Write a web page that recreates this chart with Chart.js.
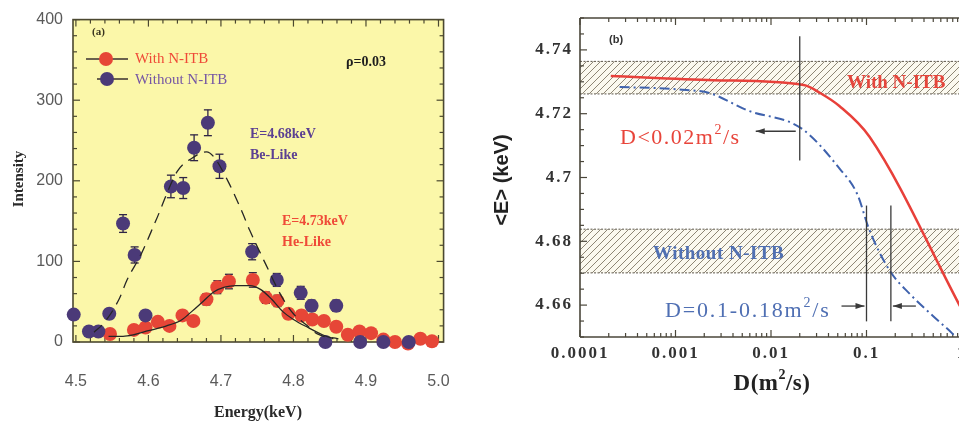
<!DOCTYPE html>
<html>
<head>
<meta charset="utf-8">
<script src="https://cdn.jsdelivr.net/npm/chart.js@4.4.1/dist/chart.umd.min.js"></script>
<style>
  html, body { margin: 0; padding: 0; background: #ffffff; overflow: hidden; width: 959px; height: 426px; }
  #wrap { position: relative; width: 959px; height: 426px; overflow: hidden; }
  #ca { position: absolute; left: 0; top: 0; }
  #cb { position: absolute; left: 480px; top: 0; }
</style>
</head>
<body>
<div id="wrap">
  <canvas id="ca" width="480" height="426"></canvas>
  <canvas id="cb" width="600" height="426"></canvas>
</div>
<script>
// ---------- (a) spectra at rho = 0.03 ----------
const energyWith = [4.547, 4.580, 4.596, 4.613, 4.629, 4.647, 4.662, 4.680, 4.695, 4.711,
                    4.744, 4.762, 4.778, 4.793, 4.811, 4.826, 4.842, 4.859, 4.875, 4.891,
                    4.907, 4.924, 4.940, 4.958, 4.975, 4.991];
const intensityWith = [10, 15, 18, 25, 20, 33, 26, 53, 68, 75,
                       77, 55, 51, 35, 33, 28, 26, 19, 9, 13,
                       11, 3, 0, -2, 4, 1];
const errorWith = [3, 4, 4, 5, 4, 6, 5, 7, 8, 9,
                   9, 7, 7, 6, 6, 5, 5, 4, 3, 4,
                   3, 2, 1, 1, 2, 1];

const energyWithout = [4.497, 4.518, 4.531, 4.546, 4.565, 4.581, 4.596, 4.631, 4.648, 4.663,
                       4.682, 4.698, 4.743, 4.777, 4.810, 4.825, 4.844, 4.859, 4.892, 4.924, 4.959];
const intensityWithout = [34, 13, 13, 35, 147, 108, 33, 193, 191, 241,
                          272, 218, 112, 77, 61, 45, 0, 45, 0, 0, 0];
const errorWithout = [6, 4, 4, 6, 11, 10, 6, 14, 13, 16,
                      16, 15, 10, 8, 8, 7, 0, 7, 0, 0, 0];

const fitWithE = [4.545, 4.565, 4.580, 4.600, 4.625, 4.645, 4.660, 4.675, 4.690, 4.705,
                  4.720, 4.740, 4.755, 4.770, 4.785, 4.800, 4.820, 4.840, 4.855];
const fitWithI = [7, 7, 9, 14, 20, 27, 38, 50, 62, 68,
                  70, 70, 65, 53, 38, 28, 18, 9, 4];

const fitWithoutE = [4.525, 4.540, 4.560, 4.570, 4.590, 4.610, 4.640, 4.660, 4.680, 4.690,
                     4.710, 4.727, 4.740, 4.762, 4.784, 4.800, 4.818, 4.833, 4.862];
const fitWithoutI = [12, 25, 54, 76, 109, 150, 212, 228, 236, 230,
                     199, 166, 138, 96, 56, 35, 21, 10, 4];

const energyTicks = [4.5, 4.6, 4.7, 4.8, 4.9, 5.0];
const intensityTicks = [0, 100, 200, 300, 400];

// ---------- (b) mean energy versus diffusion coefficient ----------
const dWith = [0.00021, 0.0025, 0.022, 0.033, 0.052, 0.108, 1.0];
const eWith = [4.7318, 4.7305, 4.7290, 4.7264, 4.7224, 4.7127, 4.6585];

const dWithout = [0.00026, 0.0011, 0.0023, 0.0056, 0.021, 0.0525, 0.08, 0.107, 0.176, 0.286, 0.5, 0.78, 1.0];
const eWithout = [4.7284, 4.7276, 4.7264, 4.7211, 4.7153, 4.7027, 4.6948, 4.6836, 4.6707, 4.6634, 4.6565, 4.6513, 4.648];

const bandWith = [4.7262, 4.7364];
const bandWithout = [4.6701, 4.6838];
const dLimitWith = 0.02;
const dRangeWithout = [0.1, 0.18];

const dTicks = [0.0001, 0.001, 0.01, 0.1, 1, 10];
const meanETicks = [4.66, 4.68, 4.70, 4.72, 4.74];

// ---------- helpers ----------
const SERIF = "'Liberation Serif', 'Times New Roman', serif";
const SANS = "'Liberation Sans', Arial, sans-serif";

function seg(ctx, x1, y1, x2, y2) {
  ctx.beginPath(); ctx.moveTo(x1, y1); ctx.lineTo(x2, y2); ctx.stroke();
}

// text made of pieces, some raised as superscripts
function richText(ctx, parts, x, y, size, family, weight, color, align, spacing) {
  ctx.save();
  ctx.fillStyle = color;
  ctx.textBaseline = 'middle';
  ctx.textAlign = 'left';
  ctx.letterSpacing = (spacing || 0) + 'px';
  const fontFor = sup => `${weight} ${sup ? Math.round(size * 0.62) : size}px ${family}`;
  let total = 0;
  for (const [t, sup] of parts) { ctx.font = fontFor(sup); total += ctx.measureText(t).width; }
  let cx = align === 'center' ? x - total / 2 : x;
  for (const [t, sup] of parts) {
    ctx.font = fontFor(sup);
    ctx.fillText(t, cx, sup ? y - size * 0.36 : y);
    cx += ctx.measureText(t).width;
  }
  ctx.restore();
}

function arrow(ctx, x1, y, x2) {
  seg(ctx, x1, y, x2, y);
  const dir = Math.sign(x2 - x1);
  ctx.beginPath();
  ctx.moveTo(x2, y);
  ctx.lineTo(x2 - dir * 9, y - 3);
  ctx.lineTo(x2 - dir * 9, y + 3);
  ctx.closePath();
  ctx.fill();
}

function hatchPattern(ctx) {
  const c = document.createElement('canvas');
  c.width = 7; c.height = 7;
  const g = c.getContext('2d');
  g.fillStyle = '#fbf9ef';
  g.fillRect(0, 0, 7, 7);
  g.strokeStyle = '#8e8675';
  g.lineWidth = 1;
  g.beginPath();
  g.moveTo(0, 7); g.lineTo(7, 0);
  g.moveTo(-1, 1); g.lineTo(1, -1);
  g.moveTo(6, 8); g.lineTo(8, 6);
  g.stroke();
  return ctx.createPattern(c, 'repeat');
}

const toPoints = (xs, ys) => xs.map((v, i) => ({ x: v, y: ys[i] }));

// ---------- panel (a) decorations ----------
const panelA = {
  id: 'panelA',
  beforeDatasetsDraw(chart) {
    const { ctx, chartArea: a, scales: { x, y } } = chart;
    ctx.save();
    ctx.fillStyle = '#fbf7a9';
    ctx.fillRect(a.left, a.top, a.right - a.left, a.bottom - a.top);

    ctx.strokeStyle = '#4b4830';
    ctx.lineWidth = 1.2;
    for (let k = 0; k <= 25; k++) {
      const v = 4.5 + k * 0.02;
      const px = x.getPixelForValue(v);
      const len = k % 5 === 0 ? 7 : 4;
      seg(ctx, px, a.bottom, px, a.bottom - len);
      seg(ctx, px, a.top, px, a.top + len);
    }
    for (let k = 0; k <= 20; k++) {
      const py = y.getPixelForValue(k * 20);
      const len = k % 5 === 0 ? 7 : 4;
      seg(ctx, a.left, py, a.left + len, py);
      seg(ctx, a.right, py, a.right - len, py);
    }
    ctx.lineWidth = 1.6;
    ctx.strokeRect(a.left, a.top, a.right - a.left, a.bottom - a.top);

    // error bars
    ctx.strokeStyle = '#2f2545';
    ctx.lineWidth = 1.3;
    const bars = (es, is, errs) => {
      es.forEach((e, i) => {
        if (!errs[i]) return;
        const px = x.getPixelForValue(e);
        const top = y.getPixelForValue(is[i] + errs[i]);
        const bot = y.getPixelForValue(is[i] - errs[i]);
        seg(ctx, px, top, px, bot);
        seg(ctx, px - 4, top, px + 4, top);
        seg(ctx, px - 4, bot, px + 4, bot);
      });
    };
    bars(energyWith, intensityWith, errorWith);
    bars(energyWithout, intensityWithout, errorWithout);
    ctx.restore();
  },
  afterDraw(chart) {
    const { ctx } = chart;
    ctx.save();
    ctx.textBaseline = 'middle';
    ctx.textAlign = 'left';

    ctx.fillStyle = '#3a3520';
    ctx.font = `bold 11px ${SERIF}`;
    ctx.fillText('(a)', 92, 32);

    // legend
    ctx.strokeStyle = '#3a3030';
    ctx.lineWidth = 1.5;
    seg(ctx, 86, 59, 128, 59);
    seg(ctx, 97, 79, 128, 79);
    ctx.fillStyle = '#e64637';
    ctx.beginPath(); ctx.arc(106, 59, 7, 0, Math.PI * 2); ctx.fill();
    ctx.fillStyle = '#4b3a78';
    ctx.beginPath(); ctx.arc(107, 79, 7, 0, Math.PI * 2); ctx.fill();
    ctx.font = `15px ${SERIF}`;
    ctx.fillStyle = '#ef4a38';
    ctx.fillText('With N-ITB', 135, 59);
    ctx.fillStyle = '#7556a4';
    ctx.fillText('Without N-ITB', 135, 80);

    ctx.fillStyle = '#1e1e1e';
    ctx.font = `bold 14px ${SERIF}`;
    ctx.fillText('\u03C1=0.03', 346, 62);

    ctx.font = `bold 14px ${SERIF}`;
    ctx.fillStyle = '#5b3f92';
    ctx.fillText('E=4.68keV', 250, 134);
    ctx.fillText('Be-Like', 250, 155);
    ctx.fillStyle = '#ef4a38';
    ctx.fillText('E=4.73keV', 282, 221);
    ctx.fillText('He-Like', 282, 242);

    // axis titles
    ctx.fillStyle = '#2a2a2a';
    ctx.font = `bold 16px ${SERIF}`;
    ctx.textAlign = 'center';
    ctx.fillText('Energy(keV)', 258, 413);
    ctx.translate(19, 179);
    ctx.rotate(-Math.PI / 2);
    ctx.font = `bold 15px ${SERIF}`;
    ctx.fillText('Intensity', 0, 0);
    ctx.restore();
  }
};

// ---------- panel (b) decorations ----------
const panelB = {
  id: 'panelB',
  beforeDraw(chart) {
    // wider tracking for the axis numbers
    chart.ctx.letterSpacing = '2px';
  },
  beforeDatasetsDraw(chart) {
    const { ctx, chartArea: a, scales: { x, y } } = chart;
    ctx.letterSpacing = '0px';
    ctx.save();
    const pat = hatchPattern(ctx);
    for (const band of [bandWith, bandWithout]) {
      const top = y.getPixelForValue(band[1]);
      const bot = y.getPixelForValue(band[0]);
      ctx.fillStyle = pat;
      ctx.fillRect(a.left, top, a.right - a.left, bot - top);
      ctx.strokeStyle = '#5a5448';
      ctx.lineWidth = 1;
      ctx.setLineDash([2, 1.5]);
      seg(ctx, a.left, top, a.right, top);
      seg(ctx, a.left, bot, a.right, bot);
      ctx.setLineDash([]);
    }

    // axis frame and inward ticks
    ctx.strokeStyle = '#4a463a';
    ctx.lineWidth = 1.2;
    for (let d = -4; d <= 0; d++) {
      for (let k = 1; k <= 9; k++) {
        const px = x.getPixelForValue(k * Math.pow(10, d));
        const len = k === 1 ? 7 : 4;
        seg(ctx, px, a.bottom, px, a.bottom - len);
        seg(ctx, px, a.top, px, a.top + len);
      }
    }
    for (let k = 0; k <= 20; k++) {
      const py = y.getPixelForValue(4.65 + k * 0.005);
      const len = k % 4 === 2 ? 7 : 4;
      seg(ctx, a.left, py, a.left + len, py);
    }
    ctx.lineWidth = 1.6;
    seg(ctx, a.left, a.top, a.right, a.top);
    seg(ctx, a.left, a.top, a.left, a.bottom);
    seg(ctx, a.left, a.bottom, a.right, a.bottom);
    ctx.restore();
  },
  afterDatasetsDraw(chart) {
    const { ctx, scales: { x, y } } = chart;
    ctx.save();
    ctx.strokeStyle = '#3a3a3a';
    ctx.fillStyle = '#3a3a3a';
    ctx.lineWidth = 1.3;

    const xl = x.getPixelForValue(dLimitWith);
    seg(ctx, xl, y.getPixelForValue(4.7443), xl, y.getPixelForValue(4.7053));
    const ya = y.getPixelForValue(4.7145);
    arrow(ctx, xl - 4, ya, xl - 44);

    const x1 = x.getPixelForValue(dRangeWithout[0]);
    const x2 = x.getPixelForValue(dRangeWithout[1]);
    const vt = y.getPixelForValue(4.6912), vb = y.getPixelForValue(4.6549);
    seg(ctx, x1, vt, x1, vb);
    seg(ctx, x2, vt, x2, vb);
    const yb = y.getPixelForValue(4.6597);
    arrow(ctx, x1 - 25, yb, x1 - 2);
    arrow(ctx, x2 + 25, yb, x2 + 2);
    ctx.restore();
  },
  afterDraw(chart) {
    const { ctx } = chart;
    ctx.save();
    ctx.letterSpacing = '0px';
    ctx.textBaseline = 'middle';
    ctx.textAlign = 'left';
    ctx.fillStyle = '#333333';
    ctx.font = `bold 11px ${SANS}`;
    ctx.fillText('(b)', 129, 40);

    ctx.font = `bold 19px ${SERIF}`;
    ctx.fillStyle = '#e4463c';
    ctx.fillText('With N-ITB', 367, 83);
    ctx.fillStyle = '#5070b2';
    ctx.letterSpacing = '0.5px';
    ctx.fillText('Without N-ITB', 173, 254);
    ctx.letterSpacing = '0px';

    richText(ctx, [['D<0.02m', false], ['2', true], ['/s', false]], 140, 138, 22, SERIF, 'normal', '#e8443a', 'left', 1.5);
    richText(ctx, [['D=0.1-0.18m', false], ['2', true], ['/s', false]], 185, 311, 22, SERIF, 'normal', '#4f6fb3', 'left', 1.8);

    richText(ctx, [['D(m', false], ['2', true], ['/s)', false]], 292, 384, 23, SERIF, 'bold', '#222222', 'center', 0.5);

    ctx.translate(22, 180);
    ctx.rotate(-Math.PI / 2);
    ctx.textAlign = 'center';
    ctx.fillStyle = '#222222';
    ctx.font = `bold 20px ${SANS}`;
    ctx.fillText('<E> (keV)', 0, 0);
    ctx.restore();
  }
};

Chart.defaults.animation = false;

new Chart(document.getElementById('ca'), {
  type: 'scatter',
  data: {
    datasets: [
      { label: 'fit without N-ITB', data: toPoints(fitWithoutE, fitWithoutI), showLine: true,
        pointRadius: 0, borderColor: '#262626', borderWidth: 1.3, borderDash: [11, 7],
        cubicInterpolationMode: 'monotone', order: -2 },
      { label: 'fit with N-ITB', data: toPoints(fitWithE, fitWithI), showLine: true,
        pointRadius: 0, borderColor: '#262626', borderWidth: 1.3,
        cubicInterpolationMode: 'monotone', order: -1 },
      { label: 'Without N-ITB', data: toPoints(energyWithout, intensityWithout),
        pointRadius: 7, pointBorderWidth: 0, pointBackgroundColor: '#4b3a78',
        backgroundColor: '#4b3a78', borderColor: '#4b3a78', clip: false, order: 0 },
      { label: 'With N-ITB', data: toPoints(energyWith, intensityWith),
        pointRadius: 7, pointBorderWidth: 0, pointBackgroundColor: '#e64637',
        backgroundColor: '#e64637', borderColor: '#e64637', clip: false, order: 1 }
    ]
  },
  options: {
    responsive: false,
    animation: false,
    devicePixelRatio: 1,
    layout: { padding: { top: 18, right: 28, left: 0, bottom: 0 } },
    plugins: { legend: { display: false }, tooltip: { enabled: false } },
    scales: {
      x: {
        type: 'linear', min: 4.496, max: 5.007,
        afterBuildTicks: s => { s.ticks = energyTicks.map(v => ({ value: v })); },
        afterFit: s => { s.height = 84; },
        grid: { display: false, drawTicks: false },
        border: { display: false },
        ticks: { padding: 30, color: '#5a5a5a', autoSkip: false, maxRotation: 0,
                 font: { family: SANS, size: 16 }, callback: v => Number(v).toFixed(1) }
      },
      y: {
        type: 'linear', min: 0, max: 400,
        afterBuildTicks: s => { s.ticks = intensityTicks.map(v => ({ value: v })); },
        afterFit: s => { s.width = 73; },
        grid: { display: false, drawTicks: false },
        border: { display: false },
        ticks: { padding: 10, color: '#5a5a5a', autoSkip: false,
                 font: { family: SANS, size: 16 }, callback: v => String(v) }
      }
    }
  },
  plugins: [panelA]
});

new Chart(document.getElementById('cb'), {
  type: 'scatter',
  data: {
    datasets: [
      { label: 'With N-ITB', data: toPoints(dWith, eWith), showLine: true, pointRadius: 0,
        borderColor: '#e8403a', borderWidth: 2.5, cubicInterpolationMode: 'monotone' },
      { label: 'Without N-ITB', data: toPoints(dWithout, eWithout), showLine: true, pointRadius: 0,
        borderColor: '#3f62ad', borderWidth: 2, borderDash: [10, 4, 2, 4],
        cubicInterpolationMode: 'monotone' }
    ]
  },
  options: {
    responsive: false,
    animation: false,
    devicePixelRatio: 1,
    layout: { padding: { top: 18, right: 22.5, left: 0, bottom: 0 } },
    plugins: { legend: { display: false }, tooltip: { enabled: false } },
    scales: {
      x: {
        type: 'logarithmic', min: 0.0001, max: 10,
        afterBuildTicks: s => { s.ticks = dTicks.map(v => ({ value: v })); },
        afterFit: s => { s.height = 89; },
        grid: { display: false, drawTicks: false },
        border: { display: false },
        ticks: { padding: 6, color: '#333333', autoSkip: false, maxRotation: 0,
                 font: { family: SERIF, size: 17, weight: 'bold' },
                 callback: v => String(Number(v)) }
      },
      y: {
        type: 'linear', min: 4.65, max: 4.75,
        afterBuildTicks: s => { s.ticks = meanETicks.map(v => ({ value: v })); },
        afterFit: s => { s.width = 100; },
        grid: { display: false, drawTicks: false },
        border: { display: false },
        ticks: { padding: 7, color: '#333333', autoSkip: false,
                 font: { family: SERIF, size: 17, weight: 'bold' },
                 callback: v => String(Math.round(v * 100) / 100) }
      }
    }
  },
  plugins: [panelB]
});
</script>
</body>
</html>
